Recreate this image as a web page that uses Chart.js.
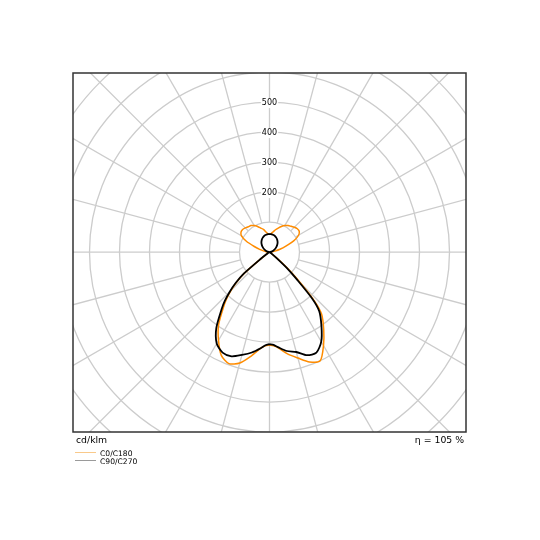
<!DOCTYPE html>
<html>
<head>
<meta charset="utf-8">
<script src="https://cdn.jsdelivr.net/npm/chart.js@4.4.1/dist/chart.umd.min.js"></script>
<style>
  html, body { margin: 0; padding: 0; background: #fff; }
</style>
</head>
<body>
<canvas id="myChart" width="540" height="540"></canvas>
<script>
// gamma angles (deg from nadir) and intensities in cd/klm
const gamma = [0, 2.5, 5, 10, 15, 20, 25, 30, 35, 40, 42.5, 45, 47.5, 50, 52.5, 55, 60, 70, 80, 90,
  100, 105, 110, 115, 120, 125, 130, 135, 140, 145, 150, 155, 160, 165, 170, 175, 180];

const c0 = [310, 313, 320, 345, 366, 390, 400, 360, 315, 270, 222, 145, 88, 38, 12, 5, 3, 3, 3, 5,
  18, 36, 58, 90, 112, 121, 121, 117, 112, 108, 102, 94, 85, 77, 68, 62, 60];
const c180 = [310, 313, 321, 352, 383, 396, 380, 340, 296, 238, 212, 182, 150, 108, 35, 10, 5, 4, 4, 6,
  18, 34, 54, 85, 108, 116, 117, 114, 110, 108, 102, 94, 85, 78, 68, 62, 60];
const c90 = [307, 310, 318, 335, 345, 366, 370, 345, 302, 258, 212, 130, 78, 30, 10, 4, 2, 1, 1, 0,
  6, 9, 13, 17, 22, 27, 32, 37, 42, 46, 50, 53, 56, 58, 59, 60, 60];
const c270 = [307, 311, 321, 340, 355, 370, 370, 352, 309, 248, 220, 188, 154, 112, 35, 8, 3, 2, 1, 0,
  6, 9, 13, 17, 22, 27, 32, 37, 42, 46, 50, 53, 56, 58, 59, 60, 60];

const seriesLabels = ['C0/C180', 'C90/C270'];
const ringValues = [100, 200, 300, 400, 500, 600, 700, 800, 900, 1000];
const ringTicks = [200, 300, 400, 500];
const spokeStep = 15;
const unitLabel = 'cd/klm';
const efficiencyLabel = 'η = 105 %';

// right half goes 0 -> 180, left half comes back 180 -> 0 (shared ends not repeated)
function curve(right, left) {
  const pts = [];
  gamma.forEach((g, i) => {
    const a = g * Math.PI / 180;
    pts.push({ x: right[i] * Math.sin(a), y: -right[i] * Math.cos(a) });
  });
  for (let i = gamma.length - 2; i >= 1; i--) {
    const a = gamma[i] * Math.PI / 180;
    pts.push({ x: -left[i] * Math.sin(a), y: -left[i] * Math.cos(a) });
  }
  pts.push(pts[0]);
  return pts;
}

const FONT = '"DejaVu Sans", sans-serif';

const polarGrid = {
  id: 'polarGrid',
  beforeDatasetsDraw(chart) {
    const { ctx, chartArea: a, scales: { x, y } } = chart;
    const cx = x.getPixelForValue(0), cy = y.getPixelForValue(0);
    const rad = v => x.getPixelForValue(v) - cx;
    ctx.save();
    ctx.beginPath();
    ctx.rect(a.left, a.top, a.right - a.left, a.bottom - a.top);
    ctx.clip();
    ctx.strokeStyle = '#cccccc';
    ctx.lineWidth = 1.3;
    ringValues.forEach(v => {
      ctx.beginPath();
      ctx.arc(cx, cy, rad(v), 0, Math.PI * 2);
      ctx.stroke();
    });
    const r0 = rad(ringValues[0]), r1 = rad(ringValues[ringValues.length - 1]);
    for (let d = 0; d < 360; d += spokeStep) {
      const t = d * Math.PI / 180;
      ctx.beginPath();
      ctx.moveTo(cx + r0 * Math.sin(t), cy + r0 * Math.cos(t));
      ctx.lineTo(cx + r1 * Math.sin(t), cy + r1 * Math.cos(t));
      ctx.stroke();
    }
    ctx.font = '8px ' + FONT;
    ctx.textAlign = 'center';
    ctx.textBaseline = 'middle';
    ringTicks.forEach(v => {
      const ty = y.getPixelForValue(v) + 1;
      const w = ctx.measureText(String(v)).width;
      ctx.fillStyle = '#fff';
      ctx.fillRect(cx - w / 2 - 1, ty - 5, w + 2, 10);
      ctx.fillStyle = '#000';
      ctx.fillText(String(v), cx, ty);
    });
    ctx.restore();
  },
  afterDatasetsDraw(chart) {
    const { ctx, chartArea: a } = chart;
    ctx.save();
    ctx.strokeStyle = '#333';
    ctx.lineWidth = 1.5;
    ctx.strokeRect(a.left, a.top, a.right - a.left, a.bottom - a.top);

    ctx.fillStyle = '#000';
    ctx.font = '9.3px ' + FONT;
    ctx.textBaseline = 'alphabetic';
    ctx.textAlign = 'left';
    ctx.fillText(unitLabel, a.left + 3, a.bottom + 11);
    ctx.textAlign = 'right';
    ctx.fillText(efficiencyLabel, a.right - 2, a.bottom + 11);

    const legendColors = ['#f9c98a', '#9a9a9a'];
    ctx.font = '7.6px ' + FONT;
    ctx.textAlign = 'left';
    chart.data.datasets.forEach((ds, i) => {
      const ly = a.bottom + 20.5 + i * 8;
      ctx.strokeStyle = legendColors[i];
      ctx.lineWidth = 1;
      ctx.beginPath();
      ctx.moveTo(a.left + 2, ly);
      ctx.lineTo(a.left + 23, ly);
      ctx.stroke();
      ctx.fillStyle = '#000';
      ctx.fillText(ds.label, a.left + 27, ly + 3);
    });
    ctx.restore();
  }
};

const ctx = document.getElementById('myChart').getContext('2d');
new Chart(ctx, {
  type: 'scatter',
  data: {
    datasets: [
      {
        label: seriesLabels[0],
        data: curve(c0, c180),
        showLine: true,
        borderColor: '#ff8c00',
        borderWidth: 1.5,
        pointRadius: 0,
        tension: 0.25,
        order: 1
      },
      {
        label: seriesLabels[1],
        data: curve(c90, c270),
        showLine: true,
        borderColor: '#000000',
        borderWidth: 1.8,
        pointRadius: 0,
        tension: 0.25,
        order: 0
      }
    ]
  },
  options: {
    responsive: false,
    animation: false,
    layout: { padding: { left: 73, top: 73, right: 74, bottom: 108 } },
    scales: {
      x: { type: 'linear', min: -655, max: 655, display: false },
      y: { type: 'linear', min: -600, max: 597, display: false }
    },
    plugins: {
      legend: { display: false },
      tooltip: { enabled: false }
    }
  },
  plugins: [polarGrid]
});
</script>
</body>
</html>
